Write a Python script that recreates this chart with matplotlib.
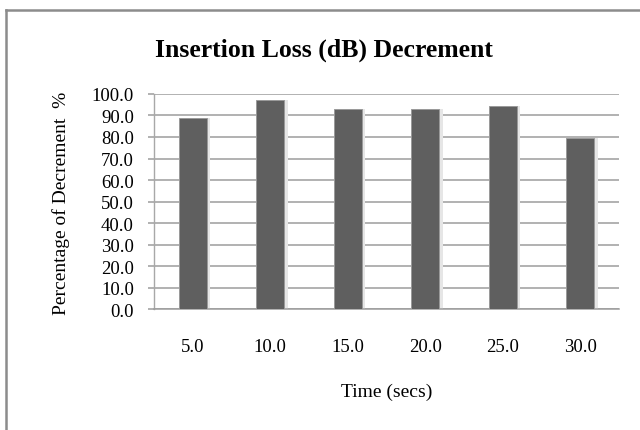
import matplotlib
matplotlib.use("Agg")
import matplotlib.pyplot as plt
from matplotlib.lines import Line2D

times = ["5.0", "10.0", "15.0", "20.0", "25.0", "30.0"]
decrement = [88.9, 97.2, 92.9, 92.9, 94.3, 79.5]
yticks = [0, 10, 20, 30, 40, 50, 60, 70, 80, 90, 100]

plt.rcParams["font.family"] = ["Liberation Serif", "DejaVu Serif"]

fig = plt.figure(figsize=(6.4, 4.31), dpi=100)
ax = fig.add_axes([0.2406, 0.2807, 0.7266, 0.4989])

# chart frame, only top and left edges fall inside the image
frame = "#8c8c8c"
fig.add_artist(Line2D([6 / 640, 6 / 640], [0, 1 - 11 / 431], transform=fig.transFigure,
                      color=frame, linewidth=1.8))
fig.add_artist(Line2D([6 / 640, 1], [1 - 11 / 431, 1 - 11 / 431], transform=fig.transFigure,
                      color=frame, linewidth=1.8))

x = list(range(len(times)))
# soft shadow then the bars
ax.bar([i + 0.04 for i in x], decrement, width=0.37, color="#e6e6e6", zorder=2)
ax.bar(x, decrement, width=0.366, color="#5f5f5f", edgecolor="#9a9a9a",
       linewidth=0.7, zorder=3)

ax.set_ylim(0, 100)
ax.set_xlim(-0.5, len(times) - 0.5)
ax.set_yticks(yticks)
ax.set_yticklabels([f"{v:.1f}" for v in yticks], fontsize=13.5)
ax.set_xticks(x)
ax.set_xticklabels(times, fontsize=13.5)
ax.yaxis.grid(True, color="#9c9c9c", linewidth=1.1, zorder=1)
ax.set_axisbelow(True)
for s in ["top", "right"]:
    ax.spines[s].set_visible(False)
ax.spines["left"].set_color("#a8a8a8")
ax.spines["bottom"].set_color("#9c9c9c")
ax.spines["left"].set_linewidth(1.0)
ax.spines["bottom"].set_linewidth(1.1)
ax.tick_params(axis="y", length=4.5, width=1.1, color="#9c9c9c", pad=10)
ax.tick_params(axis="x", length=0, pad=21)

fig.text(61 / 640, 0.529, "Percentage of Decrement  %", rotation=90,
         ha="center", va="center", fontsize=14)
fig.text(386.5 / 640, 0.0905, "Time (secs)", ha="center", va="center", fontsize=14)
fig.text(0.506, 0.884, "Insertion Loss (dB) Decrement", ha="center", va="center",
         fontsize=18.5, fontweight="bold")

plt.savefig("out.png", dpi=100)
